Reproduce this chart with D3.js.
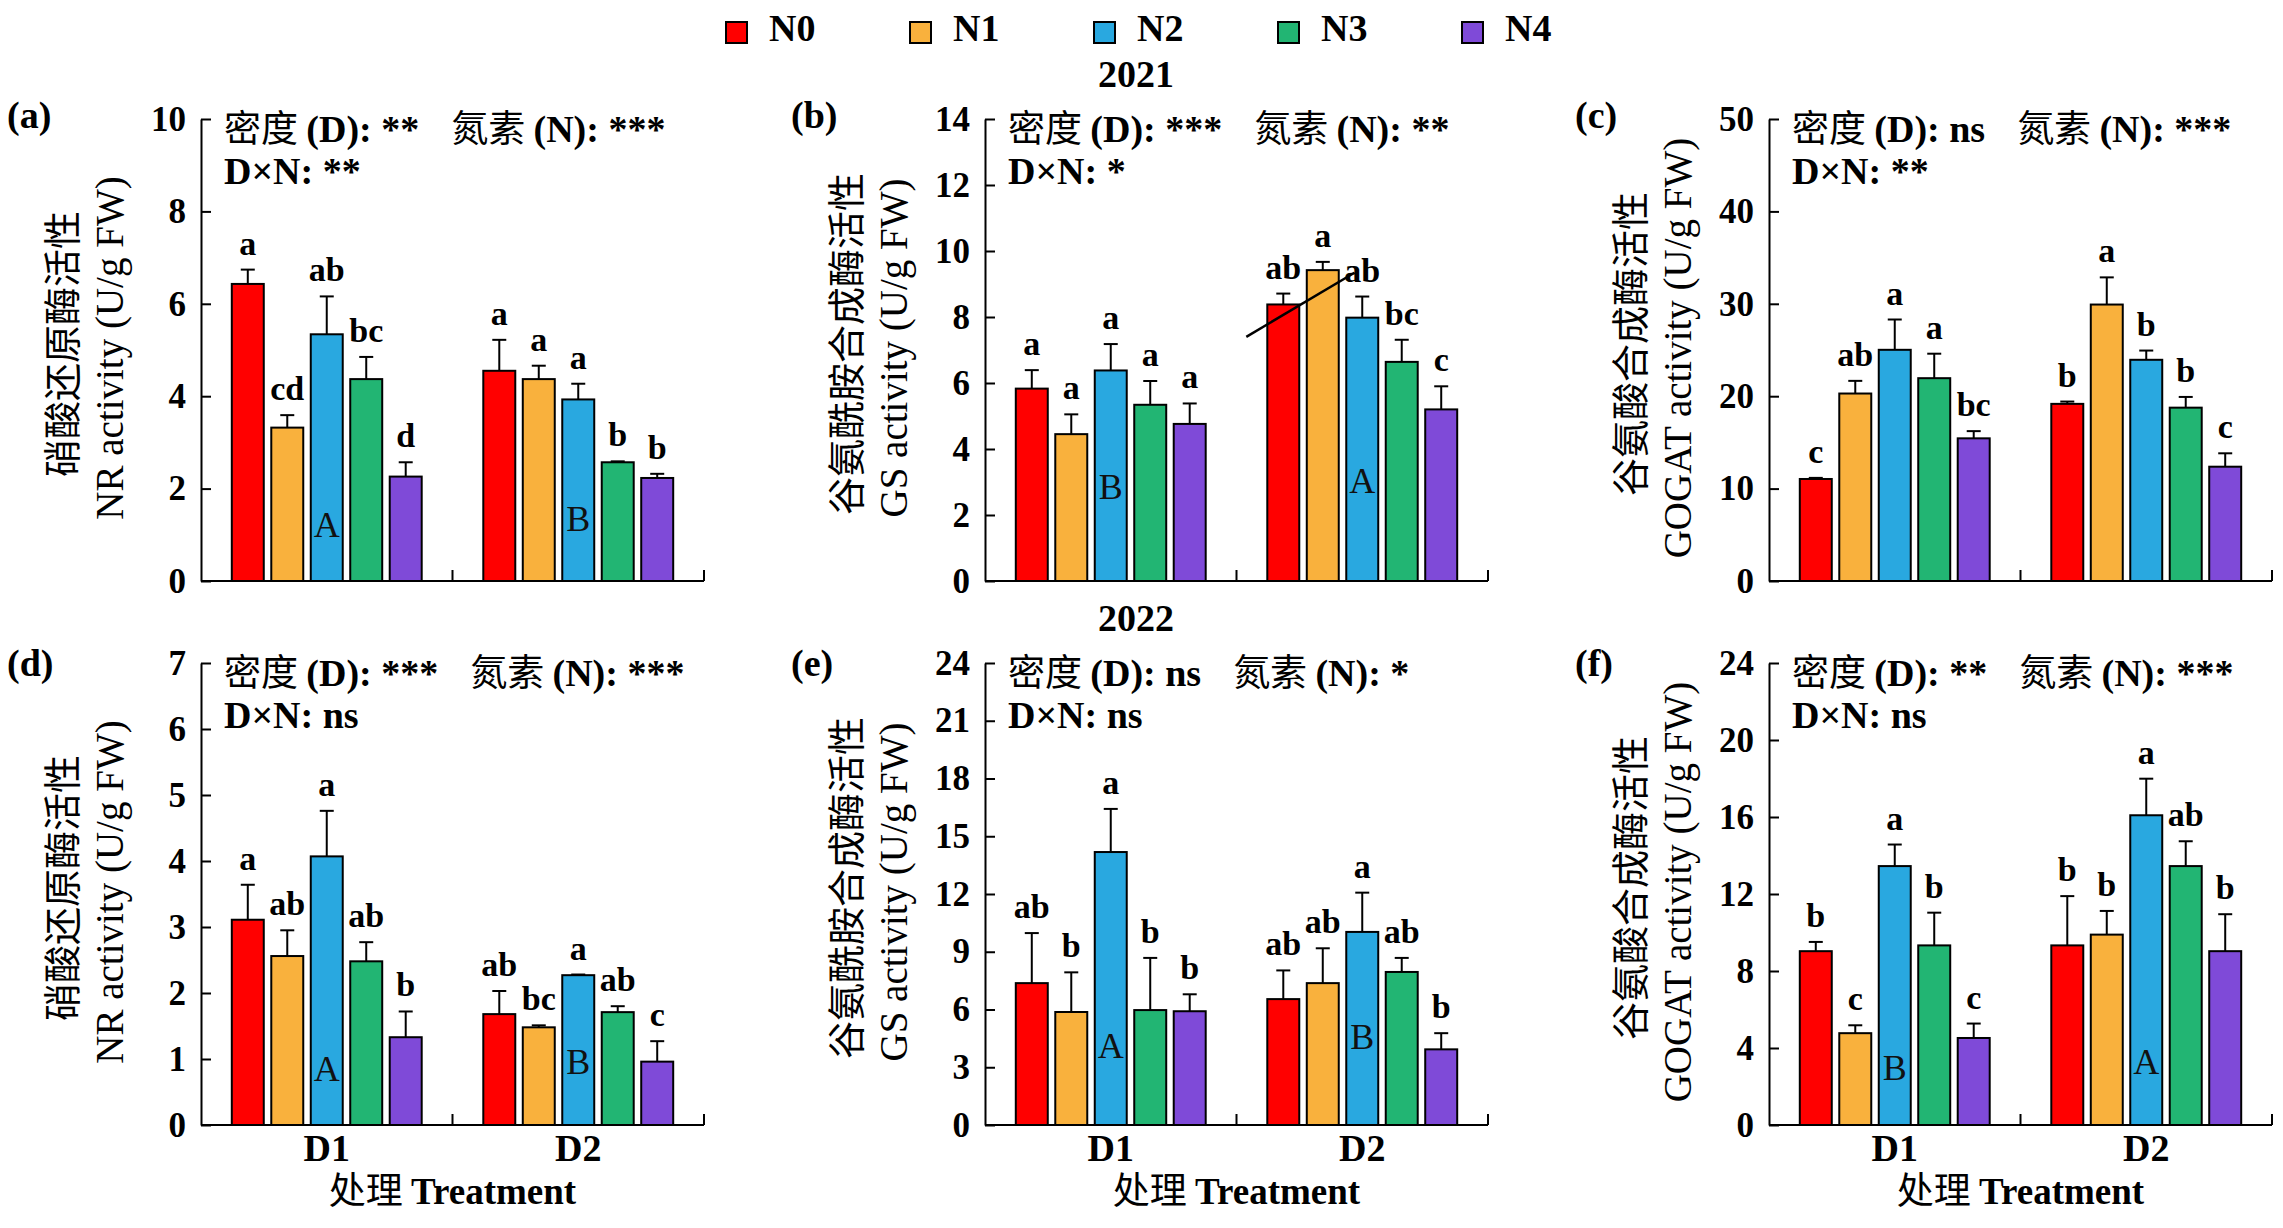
<!DOCTYPE html>
<html lang="zh">
<head>
    <meta charset="utf-8">
    <title>NR GS GOGAT activity 2021 2022</title>
    <script src="https://cdn.jsdelivr.net/npm/d3@7"></script>
</head>
<style>
    body { margin: 0; background: #fff; }
    svg text { font-family: "Liberation Serif", "Times New Roman", serif; fill: #000; }
    .cjk { font-family: "Noto Sans CJK SC", sans-serif; }
    .bold { font-weight: bold; }
    .tick text { font-weight: bold; font-size: 35px; }
    .tick line, .domain { stroke: #000; stroke-width: 2px; }
</style>
<body>
<script type="text/javascript">

    // ---- data ----
    var groups = ['D1', 'D2'];
    var levels = ['N0', 'N1', 'N2', 'N3', 'N4'];
    var colorList = ['#ff0000', '#f9b13d', '#29a8e0', '#22b573', '#7f4ad8'];

    // 2021
    var nrMean21 = [[6.43, 3.32, 5.34, 4.37, 2.26], [4.55, 4.37, 3.93, 2.57, 2.23]];
    var nrSe21 = [[0.31, 0.27, 0.82, 0.48, 0.31], [0.67, 0.29, 0.34, 0.02, 0.09]];
    var nrLet21 = [['a', 'cd', 'ab', 'bc', 'd'], ['a', 'a', 'a', 'b', 'b']];

    var gsMean21 = [[5.83, 4.45, 6.38, 5.34, 4.76], [8.38, 9.42, 7.98, 6.64, 5.20]];
    var gsSe21 = [[0.56, 0.60, 0.80, 0.72, 0.62], [0.33, 0.25, 0.64, 0.67, 0.70]];
    var gsLet21 = [['a', 'a', 'a', 'a', 'a'], ['ab', 'a', 'ab', 'bc', 'c']];

    var gogatMean21 = [[11.04, 20.29, 25.02, 21.95, 15.44], [19.17, 29.92, 23.94, 18.76, 12.37]];
    var gogatSe21 = [[0.12, 1.37, 3.28, 2.65, 0.78], [0.25, 2.94, 1.00, 1.16, 1.45]];
    var gogatLet21 = [['c', 'ab', 'a', 'a', 'bc'], ['b', 'a', 'b', 'b', 'c']];

    // 2022
    var nrMean22 = [[3.11, 2.56, 4.07, 2.48, 1.33], [1.68, 1.48, 2.27, 1.71, 0.96]];
    var nrSe22 = [[0.53, 0.39, 0.69, 0.29, 0.39], [0.35, 0.03, 0.01, 0.09, 0.31]];
    var nrLet22 = [['a', 'ab', 'a', 'ab', 'b'], ['ab', 'bc', 'a', 'ab', 'c']];

    var gsMean22 = [[7.37, 5.87, 14.18, 5.97, 5.91], [6.54, 7.37, 10.03, 7.95, 3.93]];
    var gsSe22 = [[2.60, 2.06, 2.24, 2.71, 0.88], [1.49, 1.81, 2.04, 0.73, 0.84]];
    var gsLet22 = [['ab', 'b', 'a', 'b', 'b'], ['ab', 'ab', 'a', 'ab', 'b']];

    var gogatMean22 = [[9.03, 4.77, 13.45, 9.33, 4.52], [9.33, 9.89, 16.09, 13.45, 9.03]];
    var gogatSe22 = [[0.48, 0.41, 1.12, 1.70, 0.75], [2.56, 1.23, 1.90, 1.29, 1.92]];
    var gogatLet22 = [['b', 'c', 'a', 'b', 'c'], ['b', 'b', 'a', 'ab', 'b']];

    // density letters written inside the N2 bar, with the value where they sit
    var capLet = [['A', 'B'], ['B', 'A'], null, ['A', 'B'], ['A', 'B'], ['B', 'A']];
    var capY = [[0.95, 1.08], [2.48, 2.68], null, [0.67, 0.77], [3.48, 3.96], [2.35, 2.64]];

    var yTicks = [d3.range(0, 11, 2), d3.range(0, 15, 2), d3.range(0, 51, 10),
        d3.range(0, 8, 1), d3.range(0, 25, 3), d3.range(0, 25, 4)];

    var statD = ['密度 (D): **', '密度 (D): ***', '密度 (D): ns', '密度 (D): ***', '密度 (D): ns', '密度 (D): **'];
    var statN = ['氮素 (N): ***', '氮素 (N): **', '氮素 (N): ***', '氮素 (N): ***', '氮素 (N): *', '氮素 (N): ***'];
    var statDN = ['D×N: **', 'D×N: *', 'D×N: **', 'D×N: ns', 'D×N: ns', 'D×N: ns'];

    var titleCn = ['硝酸还原酶活性', '谷氨酰胺合成酶活性', '谷氨酸合成酶活性'];
    var titleEn = ['NR activity (U/g FW)', 'GS activity (U/g FW)', 'GOGAT activity (U/g FW)'];
    var panelTags = ['(a)', '(b)', '(c)', '(d)', '(e)', '(f)'];
    var years = ['2021', '2022'];

    // stray stroke drawn over panel (b): [group, fraction of band, value]
    var gsLine21 = [['D2', 0.039, 7.40], ['D2', 0.469, 9.34]];

    var panels = [
        {mean: nrMean21, se: nrSe21, lets: nrLet21},
        {mean: gsMean21, se: gsSe21, lets: gsLet21},
        {mean: gogatMean21, se: gogatSe21, lets: gogatLet21},
        {mean: nrMean22, se: nrSe22, lets: nrLet22},
        {mean: gsMean22, se: gsSe22, lets: gsLet22},
        {mean: gogatMean22, se: gogatSe22, lets: gogatLet22}
    ];

    // ---- layout ----
    var W = 2283, H = 1228;
    var colX = [201, 985, 1769], plotW = 503;
    var rowTop = [119, 663], plotH = 462;
    var tagY = [128, 676];

    var svg = d3.select('body').append('svg')
        .attr('width', W)
        .attr('height', H);

    // legend
    var legend = svg.append('g');
    var legItems = legend.selectAll('g')
        .data(levels)
        .enter()
        .append('g')
        .attr('transform', function(d, i) { return 'translate(' + (726 + i * 184) + ',22)'; });
    legItems.append('rect')
        .attr('width', 21)
        .attr('height', 21)
        .attr('fill', function(d, i) { return colorList[i]; })
        .attr('stroke', '#000')
        .attr('stroke-width', 2);
    legItems.append('text')
        .attr('class', 'bold')
        .attr('x', 43)
        .attr('y', 19)
        .style('font-size', '38px')
        .text(function(d) { return d; });

    // year labels
    svg.selectAll('text.year')
        .data(years)
        .enter()
        .append('text')
        .attr('class', 'year bold')
        .attr('x', 1136)
        .attr('y', function(d, i) { return i === 0 ? 87 : 631; })
        .attr('text-anchor', 'middle')
        .style('font-size', '38px')
        .text(function(d) { return d; });

    panels.forEach(function(p, k) {
        var row = Math.floor(k / 3), col = k % 3;
        var x0 = colX[col], top = rowTop[row], bottom = top + plotH;
        var g = svg.append('g');

        var yMax = yTicks[k][yTicks[k].length - 1];
        var y = d3.scaleLinear().domain([0, yMax]).range([bottom, top]);
        var xGroup = d3.scaleBand().domain(groups).range([x0, x0 + plotW]);
        var xInner = d3.scaleBand().domain(levels).range([0, xGroup.bandwidth()])
            .paddingInner(0.19).paddingOuter(0.78);
        var bw = xInner.bandwidth();

        // y axis, ticks pointing inward
        g.append('g')
            .attr('transform', 'translate(' + x0 + ',0)')
            .call(d3.axisLeft(y).tickValues(yTicks[k]).tickSize(-10).tickSizeOuter(0)
                .tickPadding(15).tickFormat(d3.format('d')));

        // x axis line with ticks at band edges
        g.append('line')
            .attr('x1', x0).attr('x2', x0 + plotW)
            .attr('y1', bottom).attr('y2', bottom)
            .attr('stroke', '#000').attr('stroke-width', 2);
        var edges = [xGroup('D2'), xGroup.range()[1]];
        g.selectAll('line.edge')
            .data(edges)
            .enter()
            .append('line')
            .attr('class', 'edge')
            .attr('x1', function(d) { return d; })
            .attr('x2', function(d) { return d; })
            .attr('y1', bottom)
            .attr('y2', bottom - 11)
            .attr('stroke', '#000').attr('stroke-width', 2);

        // bars, error bars and letters
        var rows = [];
        groups.forEach(function(gr, gi) {
            levels.forEach(function(lv, li) {
                rows.push({g: gr, n: lv, i: li, m: p.mean[gi][li], s: p.se[gi][li], l: p.lets[gi][li]});
            });
        });
        function cx(d) { return xGroup(d.g) + xInner(d.n) + bw / 2; }

        g.selectAll('rect.bar')
            .data(rows)
            .enter()
            .append('rect')
            .attr('class', 'bar')
            .attr('x', function(d) { return xGroup(d.g) + xInner(d.n); })
            .attr('y', function(d) { return y(d.m); })
            .attr('width', bw)
            .attr('height', function(d) { return bottom - y(d.m); })
            .attr('fill', function(d) { return colorList[d.i]; })
            .attr('stroke', '#000')
            .attr('stroke-width', 2);

        g.selectAll('line.err')
            .data(rows)
            .enter()
            .append('line')
            .attr('class', 'err')
            .attr('x1', cx).attr('x2', cx)
            .attr('y1', function(d) { return y(d.m); })
            .attr('y2', function(d) { return y(d.m + d.s); })
            .attr('stroke', '#000').attr('stroke-width', 2);
        g.selectAll('line.cap')
            .data(rows)
            .enter()
            .append('line')
            .attr('class', 'cap')
            .attr('x1', function(d) { return cx(d) - 7; })
            .attr('x2', function(d) { return cx(d) + 7; })
            .attr('y1', function(d) { return y(d.m + d.s); })
            .attr('y2', function(d) { return y(d.m + d.s); })
            .attr('stroke', '#000').attr('stroke-width', 2);

        g.selectAll('text.sig')
            .data(rows)
            .enter()
            .append('text')
            .attr('class', 'sig bold')
            .attr('x', cx)
            .attr('y', function(d) { return y(d.m + d.s) - 15; })
            .attr('text-anchor', 'middle')
            .style('font-size', '34px')
            .text(function(d) { return d.l; });

        if (capLet[k]) {
            groups.forEach(function(gr, gi) {
                g.append('text')
                    .attr('x', xGroup(gr) + xInner('N2') + bw / 2)
                    .attr('y', y(capY[k][gi]))
                    .attr('text-anchor', 'middle')
                    .style('font-size', '36px')
                    .style('fill', '#111')
                    .text(capLet[k][gi]);
            });
        }

        if (k === 1) {
            g.append('line')
                .attr('x1', xGroup(gsLine21[0][0]) + gsLine21[0][1] * xGroup.bandwidth())
                .attr('y1', y(gsLine21[0][2]))
                .attr('x2', xGroup(gsLine21[1][0]) + gsLine21[1][1] * xGroup.bandwidth())
                .attr('y2', y(gsLine21[1][2]))
                .attr('stroke', '#000')
                .attr('stroke-width', 2.5);
        }

        // statistics text
        var st = g.append('text')
            .attr('x', x0 + 23)
            .attr('y', top + 23)
            .style('font-size', '38px');
        [statD[k], statN[k]].forEach(function(s, si) {
            var parts = s.split(' ');
            st.append('tspan').attr('class', 'cjk').attr('dx', si === 0 ? 0 : 32)
                .style('font-size', '37px').text(parts[0] + ' ');
            st.append('tspan').attr('class', 'bold').text(parts.slice(1).join(' '));
        });
        g.append('text')
            .attr('class', 'bold')
            .attr('x', x0 + 23)
            .attr('y', top + 65)
            .style('font-size', '38px')
            .text(statDN[k]);

        // panel tag
        g.append('text')
            .attr('class', 'bold')
            .attr('x', x0 - 194)
            .attr('y', tagY[row])
            .style('font-size', '38px')
            .text(panelTags[k]);

        // y titles
        var cy = (top + bottom) / 2;
        g.append('text')
            .attr('class', 'cjk')
            .attr('transform', 'translate(' + (x0 - 142) + ',' + (cy - 6) + ') rotate(-90)')
            .attr('text-anchor', 'middle')
            .attr('dominant-baseline', 'central')
            .style('font-size', '38px')
            .text(titleCn[col]);
        g.append('text')
            .attr('transform', 'translate(' + (x0 - 92) + ',' + (cy - 2) + ') rotate(-90)')
            .attr('text-anchor', 'middle')
            .attr('dominant-baseline', 'central')
            .style('font-size', '39px')
            .text(titleEn[col]);

        // x labels on the bottom row
        if (row === 1) {
            g.selectAll('text.grp')
                .data(groups)
                .enter()
                .append('text')
                .attr('class', 'grp bold')
                .attr('x', function(d) { return xGroup(d) + xGroup.bandwidth() / 2; })
                .attr('y', bottom + 36)
                .attr('text-anchor', 'middle')
                .style('font-size', '38px')
                .text(function(d) { return d; });
            var xt = g.append('text')
                .attr('x', x0 + plotW / 2)
                .attr('y', bottom + 79)
                .attr('text-anchor', 'middle')
                .style('font-size', '37px');
            xt.append('tspan').attr('class', 'cjk').text('处理 ');
            xt.append('tspan').attr('class', 'bold').text('Treatment');
        }
    });

</script>
</body>
</html>
